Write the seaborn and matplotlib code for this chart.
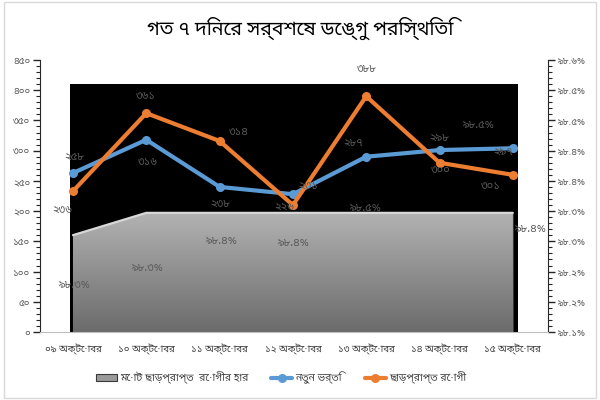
import numpy as np
import pandas as pd
import matplotlib
matplotlib.use("Agg")
import matplotlib.pyplot as plt
import seaborn as sns
from matplotlib import font_manager as fm
from matplotlib.patches import Rectangle, Patch
from matplotlib.lines import Line2D
from matplotlib.ticker import AutoMinorLocator
from matplotlib.colors import LinearSegmentedColormap

# ---------------- data ----------------
dates = ["০৯ অক্টোবর", "১০ অক্টোবর", "১১ অক্টোবর", "১২ অক্টোবর",
         "১৩ অক্টোবর", "১৪ অক্টোবর", "১৫ অক্টোবর"]
new_admit = [263, 318, 240, 228, 290, 301, 304]
discharged = [233, 362, 316, 210, 390, 280, 260]
recovery_rate = [98.278, 98.319, 98.319, 98.319, 98.319, 98.319, 98.319]
new_labels = ["২৫৮", "৩১৬", "২৩৮", "২৩১", "২৮৭", "২৯৮", "২৯৭"]
dis_labels = ["২৩৬", "৩৬১", "৩১৪", "২২৬", "৩৮৮", "৩০০", "৩০১"]
rate_labels = ["৯৮.৩%", "৯৮.৩%", "৯৮.৪%", "৯৮.৪%", "৯৮.৫%", "৯৮.৫%", "৯৮.৪%"]
left_ticks = [0, 50, 100, 150, 200, 250, 300, 350, 400, 450]
right_ticks = list(np.linspace(98.1, 98.6, 10))
title = "গত ৭ দিনের সর্বশেষ ডেঙ্গু পরিস্থিতি"
series_names = ["মোট ছাড়প্রাপ্ত  রোগীর হার", "নতুন ভর্তি", "ছাড়প্রাপ্ত রোগী"]

BN = str.maketrans("0123456789", "০১২৩৪৫৬৭৮৯")

# ---------------- fonts ----------------
sns.set_style("white")


def find_bengali_font():
    try:
        from fontTools.ttLib import TTFont
    except Exception:
        return None
    cands = []
    seen = set()
    for f in fm.fontManager.ttflist:
        if f.fname in seen:
            continue
        seen.add(f.fname)
        try:
            tt = TTFont(f.fname, fontNumber=0, lazy=True)
            cmap = tt.getBestCmap()
            if cmap and 0x0997 in cmap and 0x09A8 in cmap and 0x09E6 in cmap:
                cands.append(f)
        except Exception:
            pass
    if not cands:
        return None

    def score(f):
        n = (f.name + " " + f.fname).lower()
        s = 0
        if "bengali" in n or "bangla" in n or "beng" in n:
            s -= 10
        if "mono" in n or "code" in n:
            s += 20
        if "sans" in n:
            s -= 2
        if f.weight not in ("normal", 400, "regular"):
            s += 3
        if f.style != "normal":
            s += 3
        return s

    cands.sort(key=score)
    return cands[0].name


bfont = find_bengali_font()
families = ([bfont] if bfont else []) + ["DejaVu Sans"]
plt.rcParams["font.family"] = families

# ---------------- figure ----------------
fig = plt.figure(figsize=(6, 4), dpi=100)
fig.patch.set_facecolor("white")
fig.patches.append(Rectangle((0.006, 0.006), 0.988, 0.988, transform=fig.transFigure,
                             fill=False, edgecolor="#d9d9d9", lw=1.0))

ax = fig.add_axes([40 / 600, 1 - 332 / 400, 508 / 600, 272 / 400])
axr = ax.twinx()
ax.set_zorder(axr.get_zorder() + 1)
ax.patch.set_visible(False)

x = np.arange(len(dates))
xlim = (-0.45, 6.48)

# black back wall (3-D chart backdrop)
axr.add_patch(Rectangle((-0.04, 98.1), 6.11, 0.456, facecolor="black",
                        edgecolor="none", zorder=0))

# gray gradient area on right axis
poly = axr.fill_between(x, 98.1, recovery_rate, facecolor="#9a9a9a",
                        edgecolor="#3a3a3a", lw=0.8, zorder=1)
grad = np.linspace(0, 1, 256).reshape(-1, 1)
cmap = LinearSegmentedColormap.from_list("g", ["#6b6b6b", "#b3b3b3"])
im = axr.imshow(grad, extent=[0, 6, 98.1, max(recovery_rate)], origin="lower",
                cmap=cmap, aspect="auto", zorder=1.5)
im.set_clip_path(poly.get_paths()[0], transform=axr.transData)
axr.plot(x, recovery_rate, color="#d8d8d8", lw=1.6, zorder=2,
         solid_capstyle="round")

# lines
df = pd.DataFrame({
    "x": np.concatenate([x, x]),
    "value": new_admit + discharged,
    "series": [series_names[1]] * len(x) + [series_names[2]] * len(x),
})
sns.lineplot(data=df, x="x", y="value", hue="series",
             palette={series_names[1]: "#5b9bd5", series_names[2]: "#ed7d31"},
             marker="o", markersize=6.5, lw=3, markeredgecolor="none",
             legend=False, ax=ax, zorder=3)

# data labels
lab_color = "#595959"
fs_lab = 8
blue_off = [(1, 16), (1, -22), (1, -17), (15, 8), (-13, 14), (0, 12), (-10, -4)]
orange_off = [(-11, -19), (-1, 17), (19, 9), (-9, -2), (0, 27), (1, -7), (-22, -11)]
rate_off = [(2, -50), (1, -55), (2, -28), (1, -30), (-1, 5), (39, 88), (18, -16)]
for i in range(len(x)):
    ax.annotate(new_labels[i], (x[i], new_admit[i]), xytext=blue_off[i],
                textcoords="offset pixels", ha="center", va="center",
                fontsize=fs_lab, color=lab_color, zorder=5)
    ax.annotate(dis_labels[i], (x[i], discharged[i]), xytext=orange_off[i],
                textcoords="offset pixels", ha="center", va="center",
                fontsize=fs_lab, color=lab_color, zorder=5)
    axr.annotate(rate_labels[i], (x[i], recovery_rate[i]), xytext=rate_off[i],
                 textcoords="offset pixels", ha="center", va="center",
                 fontsize=fs_lab, color=lab_color, zorder=5)

# axes formatting
ax.set_xlim(*xlim)
ax.set_ylim(0, 450)
axr.set_ylim(98.1, 98.6)
ax.set_xticks(x)
ax.set_xticklabels(dates, fontsize=7, color="#404040")
ax.set_yticks(left_ticks)
ax.set_yticklabels([str(v).translate(BN) for v in left_ticks], fontsize=7,
                   color="#595959")
axr.set_yticks(right_ticks)
axr.set_yticklabels([("%.1f%%" % v).translate(BN) for v in right_ticks],
                    fontsize=7, color="#595959")
ax.yaxis.set_minor_locator(AutoMinorLocator(5))
axr.yaxis.set_minor_locator(AutoMinorLocator(5))
ax.set_xlabel("")
ax.set_ylabel("")
axr.set_ylabel("")

for a in (ax, axr):
    a.spines["top"].set_visible(False)
ax.spines["right"].set_visible(False)
axr.spines["left"].set_visible(False)
ax.spines["left"].set_color("#262626")
axr.spines["right"].set_color("#262626")
ax.spines["bottom"].set_color("#bfbfbf")
axr.spines["bottom"].set_visible(False)
ax.tick_params(axis="y", which="major", direction="out", length=5, width=1,
               color="#262626", left=True, pad=2)
ax.tick_params(axis="y", which="minor", direction="out", length=3, width=0.8,
               color="#262626", left=True)
axr.tick_params(axis="y", which="major", direction="out", length=5, width=1,
                color="#262626", right=True, pad=2)
axr.tick_params(axis="y", which="minor", direction="out", length=3, width=0.8,
                color="#262626", right=True)
ax.tick_params(axis="x", length=0, pad=8)

# title
fig.text(0.5, 1 - 28 / 400, title, ha="center", va="center", fontsize=14,
         color="black")

# legend
handles = [
    Patch(facecolor="#9a9a9a", edgecolor="#3a3a3a", lw=0.8),
    Line2D([], [], color="#5b9bd5", lw=3, marker="o", markersize=6.5,
           markeredgecolor="none"),
    Line2D([], [], color="#ed7d31", lw=3, marker="o", markersize=6.5,
           markeredgecolor="none"),
]
fig.legend(handles, series_names, loc="center", bbox_to_anchor=(281 / 600, 1 - 378 / 400),
           ncol=3, frameon=False, fontsize=7.5, handlelength=2.0, columnspacing=2.2,
           handletextpad=0.3, labelcolor="#404040")

fig.savefig("out.png", dpi=100)
